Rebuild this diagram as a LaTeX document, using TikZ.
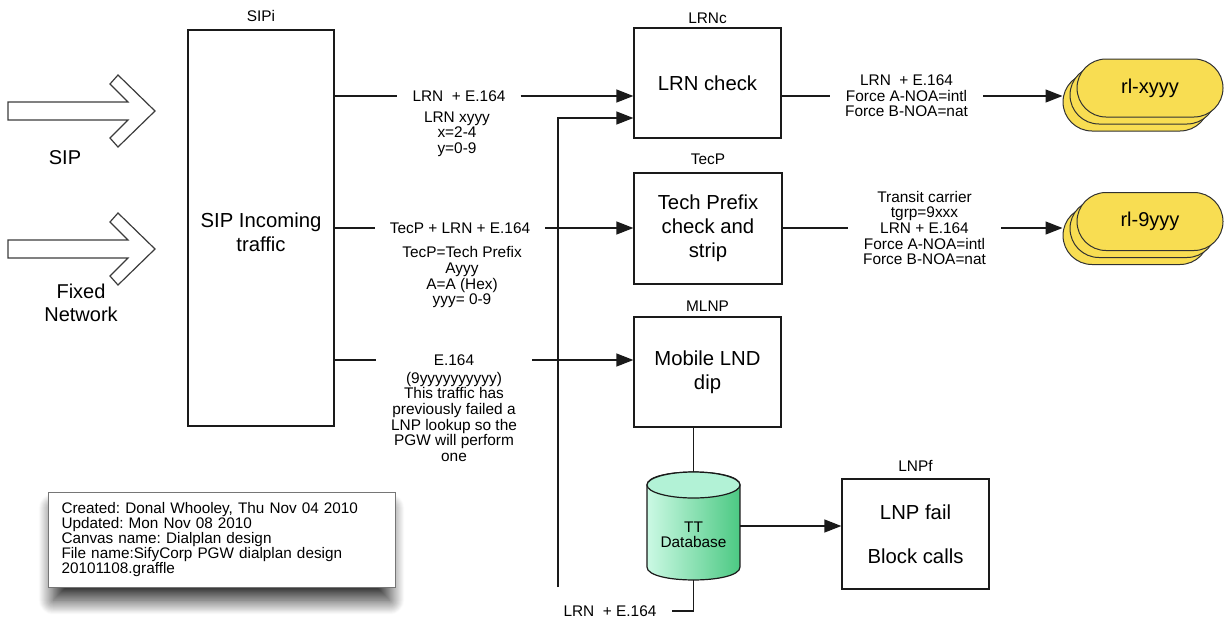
\documentclass[tikz,border=0pt]{standalone}
\usepackage{fontspec}
\setmainfont{Liberation Sans}
\usetikzlibrary{arrows.meta,calc,shadows.blur}

\definecolor{ink}{HTML}{1A1A1A}
\definecolor{rlyellow}{HTML}{F8DD52}
\definecolor{dbtop}{HTML}{B2F2D6}
\definecolor{dbleft}{HTML}{CBF9E4}
\definecolor{dbright}{HTML}{4CC983}

\begin{document}
\begin{tikzpicture}[x=1pt,y=-1pt,
  line/.style={line width=1.3pt, draw=ink},
  arr/.style={line, -{Triangle[length=17pt,width=13pt]}},
  box/.style={line, fill=white, minimum width=147pt, minimum height=110pt,
    inner sep=2pt, align=center, font=\fontsize{20.3}{24}\selectfont},
  boxtext/.style={align=center, inner sep=0pt, font=\fontsize{20.3}{24}\selectfont},
  tag/.style={font=\fontsize{15.4}{16}\selectfont, inner sep=0pt},
  note/.style={font=\fontsize{15.4}{15.6}\selectfont, align=center,
    inner xsep=15pt, inner ysep=0pt},
  bigarrow/.style={draw=ink!85, line width=1.2pt, fill=white, line join=miter},
  stad/.style={draw=ink!90, line width=1pt, fill=rlyellow, rounded corners=29pt,
    minimum width=146pt, minimum height=58pt, inner sep=0pt,
    font=\fontsize{20}{24}\selectfont},
  infobox/.style={draw=ink!60, line width=0.9pt, fill=white,
    minimum width=347pt, minimum height=95pt, text width=320pt,
    inner xsep=13.5pt, align=left, font=\fontsize{15.3}{15.2}\selectfont\frenchspacing,
    blur shadow={shadow xshift=0pt, shadow yshift=-15pt, shadow scale=0.97,
      shadow blur radius=15pt, shadow blur steps=30, shadow opacity=85}},
]
\useasboundingbox (0,0) rectangle (1225,619);

% incoming traffic block arrows
\foreach \dy in {0,138}{
  \draw[bigarrow, shift={(0,\dy)}]
    (8,102) -- (128,102) -- (110,84) -- (118,75) -- (155,111)
    -- (118,147) -- (110,138) -- (128,120) -- (8,120) -- cycle;
}
\node[font=\fontsize{20}{23}\selectfont] (sip) at (65,158) {SIP};
\node[font=\fontsize{20}{23}\selectfont, align=center] (fixed) at (81,303) {Fixed\\Network};

% processing boxes
\node[box, minimum width=146pt, minimum height=396pt,
  label={[tag,label distance=7.5pt]above:SIPi}] (SIPi) at (261,228) {};
\node[boxtext] (sipt) at (261,232) {SIP Incoming\\traffic};
\node[box, label={[tag,label distance=4pt]above:LRNc}] (LRNc) at (707.5,83) {LRN check};
\node[box, minimum width=148pt, minimum height=111pt,
  label={[tag,label distance=7.5pt]above:TecP}] (TecP) at (708,228.5) {Tech Prefix\\check and\\strip};
\node[box, label={[tag,label distance=5pt]above:MLNP}] (MLNP) at (707.5,372) {Mobile LND\\dip};
\node[box, label={[tag,label distance=6.3pt]above:LNPf}] (LNPf) at (915.5,534) {LNP fail\\[20pt]Block calls};

% route lists
\foreach \n/\t/\cy in {c/rl-xyyy/88, d/rl-9yyy/221.5}{
  \node[stad] (rl\n3) at (1136,\cy+14) {};
  \node[stad] (rl\n2) at (1143,\cy+7) {};
  \node[stad] (rl\n1) at (1150,\cy) {\t};
}

% traffic descriptions on the way in
\node[note] (h1) at (459,96) {LRN~~+ E.164};
\node[note, anchor=north] (b1) at (457,111.5) {LRN xyyy\\x=2-4\\y=0-9};
\node[note] (h2) at (460,228) {TecP + LRN + E.164};
\node[note, anchor=north] (b2) at (462,246.5) {TecP=Tech Prefix\\Ayyy\\A=A (Hex)\\yyy= 0-9};
\node[note] (h3) at (454,360) {E.164};
\node[note, anchor=north] (b3) at (454,372) {(9yyyyyyyyyy)\\This traffic has\\previously failed a\\LNP lookup so the\\PGW will perform\\one};

\draw[line] (SIPi.east |- h1) -- (h1.west);
\draw[arr] (h1.east) -- (LRNc.west |- h1);
\draw[line] (SIPi.east |- h2) -- (h2.west);
\draw[arr] (h2.east) -- (TecP.west |- h2);
\draw[line] (SIPi.east |- h3) -- (b3.west |- h3);
\draw[arr] (b3.east |- h3) -- (MLNP.west |- h3);

% return feed from the database into the LRN check
\coordinate (feed) at (558,587);
\coordinate (rin) at ($(LRNc.west)+(0,35)$);
\draw[arr] (feed) |- (rin);

% outgoing descriptions
\node[note] (r1) at (906.5,96) {LRN~~+ E.164\\Force A-NOA=intl\\Force B-NOA=nat};
\node[note] (r2) at (924.5,228) {Transit carrier\\tgrp=9xxx\\LRN + E.164\\Force A-NOA=intl\\Force B-NOA=nat};
\draw[line] (LRNc.east |- r1) -- (r1.west);
\draw[arr] (r1.east) -- (rlc3.west |- r1);
\draw[line] (TecP.east |- r2) -- (r2.west);
\draw[arr] (r2.east) -- (rld3.west |- r2);

% TT database cylinder
\node[minimum width=93pt, minimum height=108pt, inner sep=0pt] (db) at (693.5,526) {};
\shade[left color=dbleft, right color=dbright, draw=ink, line width=1.2pt]
  (647,485) -- (647,567) .. controls (647,584.3) and (740,584.3) .. (740,567)
  -- (740,485) .. controls (740,467.7) and (647,467.7) .. cycle;
\draw[fill=dbtop, draw=ink, line width=1.2pt] (693.5,485) ellipse [x radius=46.5pt, y radius=13pt];
\node[font=\fontsize{15.4}{15}\selectfont, align=center, inner sep=0pt] (dbt) at (693.5,534.5) {TT\\Database};

\draw[line] (MLNP.south -| db.north) -- (db.north);
\draw[arr] (db.east) -- (LNPf.west |- db.east);
\node[note] (lrnb) at (610,611) {LRN~~+ E.164};
\draw[line] (db.south) |- (lrnb.east);

% document information
\node[infobox] (info) at (221.5,539.5) {Created: Donal Whooley, Thu Nov 04 2010\\Updated: Mon Nov 08 2010\\Canvas name: Dialplan design\\File name:SifyCorp PGW dialplan design\\20101108.graffle};
\end{tikzpicture}
\end{document}
